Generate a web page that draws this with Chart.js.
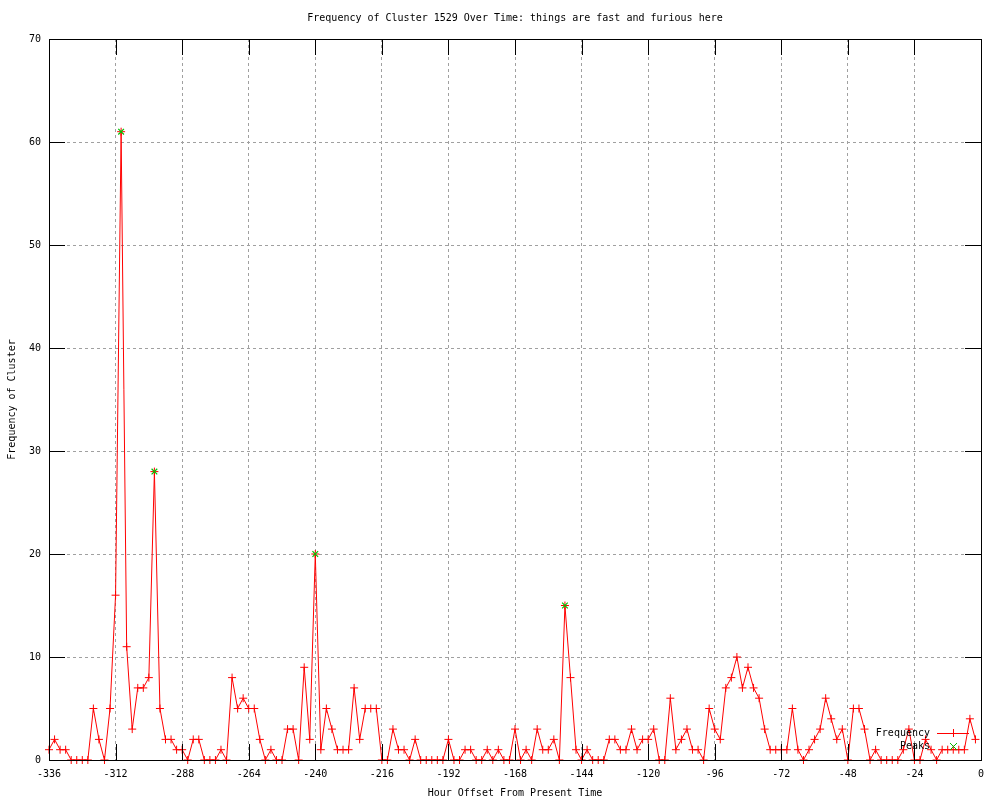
<!DOCTYPE html>
<html>
<head>
<meta charset="utf-8">
<title>Frequency of Cluster 1529</title>
<script src="https://cdn.jsdelivr.net/npm/chart.js@4/dist/chart.umd.min.js"></script>
<style>
  html, body { margin: 0; padding: 0; background: #fff; }
  #wrap { width: 1000px; height: 800px; }
</style>
</head>
<body>
<div id="wrap"><canvas id="grafico" width="1000" height="800"></canvas></div>
<script>
// hour offsets, one point every 2 hours
const hours = [
    -336, -334, -332, -330, -328, -326, -324, -322, -320, -318, -316, -314,
    -312, -310, -308, -306, -304, -302, -300, -298, -296, -294, -292, -290,
    -288, -286, -284, -282, -280, -278, -276, -274, -272, -270, -268, -266,
    -264, -262, -260, -258, -256, -254, -252, -250, -248, -246, -244, -242,
    -240, -238, -236, -234, -232, -230, -228, -226, -224, -222, -220, -218,
    -216, -214, -212, -210, -208, -206, -204, -202, -200, -198, -196, -194,
    -192, -190, -188, -186, -184, -182, -180, -178, -176, -174, -172, -170,
    -168, -166, -164, -162, -160, -158, -156, -154, -152, -150, -148, -146,
    -144, -142, -140, -138, -136, -134, -132, -130, -128, -126, -124, -122,
    -120, -118, -116, -114, -112, -110, -108, -106, -104, -102, -100, -98,
    -96, -94, -92, -90, -88, -86, -84, -82, -80, -78, -76, -74,
    -72, -70, -68, -66, -64, -62, -60, -58, -56, -54, -52, -50,
    -48, -46, -44, -42, -40, -38, -36, -34, -32, -30, -28, -26,
    -24, -22, -20, -18, -16, -14, -12, -10, -8, -6, -4, -2
];
const frequency = [
    1, 2, 1, 1, 0, 0, 0, 0, 5, 2, 0, 5,
    16, 61, 11, 3, 7, 7, 8, 28, 5, 2, 2, 1,
    1, 0, 2, 2, 0, 0, 0, 1, 0, 8, 5, 6,
    5, 5, 2, 0, 1, 0, 0, 3, 3, 0, 9, 2,
    20, 1, 5, 3, 1, 1, 1, 7, 2, 5, 5, 5,
    0, 0, 3, 1, 1, 0, 2, 0, 0, 0, 0, 0,
    2, 0, 0, 1, 1, 0, 0, 1, 0, 1, 0, 0,
    3, 0, 1, 0, 3, 1, 1, 2, 0, 15, 8, 1,
    0, 1, 0, 0, 0, 2, 2, 1, 1, 3, 1, 2,
    2, 3, 0, 0, 6, 1, 2, 3, 1, 1, 0, 5,
    3, 2, 7, 8, 10, 7, 9, 7, 6, 3, 1, 1,
    1, 1, 5, 1, 0, 1, 2, 3, 6, 4, 2, 3,
    0, 5, 5, 3, 0, 1, 0, 0, 0, 0, 1, 3,
    0, 0, 2, 1, 0, 1, 1, 1, 1, 1, 4, 2
];
const peakHours = [-310, -298, -240, -150];
const peakValues = [61, 28, 20, 15];

const xTicks = [-336, 0, 24];   // min, max, step
const yTicks = [0, 70, 10];

const FONT = "'DejaVu Sans Mono', 'Liberation Mono', monospace";
const RED = "#ff0000";
const GREEN = "#00c000";

// gnuplot style frame: full border, inward ticks mirrored on all sides, key in the corner
const gnuplotFrame = {
    id: "gnuplotFrame",
    afterDatasetsDraw(chart) {
        const ctx = chart.ctx;
        const a = chart.chartArea;
        const tl = 16;
        ctx.save();
        ctx.strokeStyle = "#000";
        ctx.lineWidth = 1;
        ctx.beginPath();
        chart.scales.x.ticks.forEach(t => {
            const px = Math.round(chart.scales.x.getPixelForValue(t.value)) + 0.5;
            ctx.moveTo(px, a.bottom); ctx.lineTo(px, a.bottom - tl);
            ctx.moveTo(px, a.top); ctx.lineTo(px, a.top + tl);
        });
        chart.scales.y.ticks.forEach(t => {
            const py = Math.round(chart.scales.y.getPixelForValue(t.value)) + 0.5;
            ctx.moveTo(a.left, py); ctx.lineTo(a.left + tl, py);
            ctx.moveTo(a.right, py); ctx.lineTo(a.right - tl, py);
        });
        ctx.stroke();
        ctx.strokeRect(Math.round(a.left) + 0.5, Math.round(a.top) + 0.5,
            Math.round(a.right - a.left), Math.round(a.bottom - a.top));

        // key
        ctx.font = "10px " + FONT;
        ctx.fillStyle = "#000";
        ctx.textAlign = "right";
        ctx.textBaseline = "middle";
        const kx = a.right - 51, ky = a.bottom - 27;
        ctx.fillText("Frequency", kx, ky);
        ctx.fillText("Peaks", kx, ky + 13);
        ctx.strokeStyle = RED;
        ctx.beginPath();
        ctx.moveTo(kx + 7, ky + 0.5); ctx.lineTo(kx + 39, ky + 0.5);
        ctx.moveTo(kx + 23.5, ky - 4); ctx.lineTo(kx + 23.5, ky + 4);
        ctx.stroke();
        ctx.strokeStyle = GREEN;
        ctx.beginPath();
        ctx.moveTo(kx + 20, ky + 10); ctx.lineTo(kx + 27, ky + 17);
        ctx.moveTo(kx + 27, ky + 10); ctx.lineTo(kx + 20, ky + 17);
        ctx.stroke();
        ctx.restore();
    }
};

const ctx = document.getElementById("grafico").getContext("2d");

new Chart(ctx, {
    type: "line",
    data: {
        datasets: [
            {
                label: "Frequency",
                data: hours.map((h, i) => ({ x: h, y: frequency[i] })),
                order: 1,
                borderColor: RED,
                backgroundColor: RED,
                borderWidth: 1,
                pointStyle: "cross",
                pointRadius: 4,
                pointBorderWidth: 1,
                pointBorderColor: RED,
                tension: 0,
                fill: false,
                clip: false
            },
            {
                label: "Peaks",
                data: peakHours.map((h, i) => ({ x: h, y: peakValues[i] })),
                order: 0,
                showLine: false,
                borderColor: GREEN,
                backgroundColor: GREEN,
                pointStyle: "crossRot",
                pointRadius: 4,
                pointBorderWidth: 1.2,
                pointBorderColor: GREEN,
                clip: false
            }
        ]
    },
    options: {
        responsive: false,
        animation: false,
        events: [],
        layout: { padding: { left: 0, right: 19, top: 0, bottom: 0 } },
        plugins: {
            legend: { display: false },
            tooltip: { enabled: false },
            title: {
                display: true,
                fullSize: false,
                text: "Frequency of Cluster 1529 Over Time: things are fast and furious here",
                color: "#000",
                font: { family: FONT, size: 10, weight: "normal", lineHeight: 1.2 },
                padding: { top: 12, bottom: 15 }
            }
        },
        scales: {
            x: {
                type: "linear",
                min: xTicks[0],
                max: xTicks[1],
                afterFit: s => { s.height = 40; },
                ticks: {
                    stepSize: xTicks[2],
                    color: "#000",
                    padding: 8,
                    maxRotation: 0,
                    autoSkip: false,
                    font: { family: FONT, size: 10 }
                },
                grid: { color: "#a0a0a0", drawTicks: false, lineWidth: 1 },
                border: { display: false, dash: [3, 3] },
                title: {
                    display: true,
                    text: "Hour Offset From Present Time",
                    color: "#000",
                    font: { family: FONT, size: 10, lineHeight: 1.2 },
                    padding: { top: 0, bottom: 1 }
                }
            },
            y: {
                min: yTicks[0],
                max: yTicks[1],
                afterFit: s => { s.width = 49; },
                ticks: {
                    stepSize: yTicks[2],
                    color: "#000",
                    padding: 8,
                    font: { family: FONT, size: 10 }
                },
                grid: { color: "#a0a0a0", drawTicks: false, lineWidth: 1 },
                border: { display: false, dash: [3, 3] },
                title: {
                    display: true,
                    text: "Frequency of Cluster",
                    color: "#000",
                    font: { family: FONT, size: 10, lineHeight: 1.2 },
                    padding: { top: 6, bottom: 0 }
                }
            }
        }
    },
    plugins: [gnuplotFrame]
});
</script>
</body>
</html>
